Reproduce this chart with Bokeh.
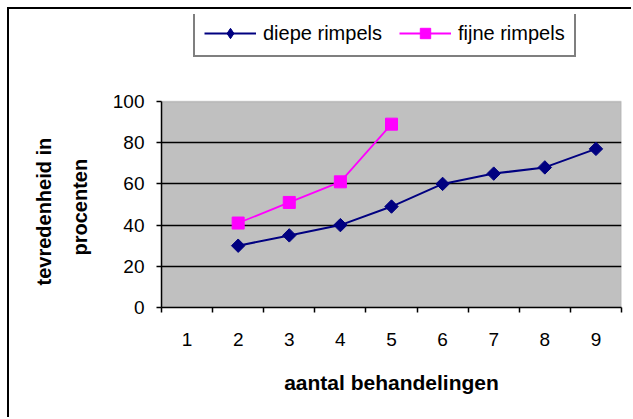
import math
from bokeh.plotting import figure
from bokeh.models import FixedTicker, Legend, LegendItem, Range1d, BoxAnnotation, Title
from bokeh.embed import file_html
from bokeh.resources import INLINE

categories = ["1", "2", "3", "4", "5", "6", "7", "8", "9"]
diepe_x = ["2", "3", "4", "5", "6", "7", "8", "9"]
diepe_values = [30, 35, 40, 49, 60, 65, 68, 77]
fijne_x = ["2", "3", "4", "5"]
fijne_values = [41, 51, 61, 89]
y_ticks = [0, 20, 40, 60, 80, 100]
series_names = ["diepe rimpels", "fijne rimpels"]
x_title = "aantal behandelingen"
y_title_lines = ["tevredenheid in", "procenten"]

pos = {c: i + 1 for i, c in enumerate(categories)}
FONT = "Liberation Sans"
NAVY = "#000080"
MAGENTA = "#FF00FF"

# layout (pixels): plot area is 206 px tall, legend sits 87 px above it
PLOT_PX = 206
LEGEND_ROOM_PX = 87
y_end = y_ticks[-1] + (y_ticks[-1] - y_ticks[0]) * LEGEND_ROOM_PX / PLOT_PX
x_lo, x_hi = 0.5, len(categories) + 0.5

p = figure(width=624, height=410, output_backend="svg", toolbar_location=None,
           x_range=Range1d(x_lo, x_hi),
           y_range=Range1d(y_ticks[0], y_end),
           min_border_left=152, min_border_right=12,
           min_border_top=5, min_border_bottom=112)
p.styles = {"border-left": "2px solid black", "border-top": "2px solid black",
            "margin-left": "7px", "margin-top": "7px"}

p.background_fill_color = "white"
p.border_fill_color = "white"
p.outline_line_color = None

plot_area = BoxAnnotation(bottom=y_ticks[0], top=y_ticks[-1], left=x_lo, right=x_hi,
                          fill_color="#C0C0C0", fill_alpha=1,
                          line_color="#808080", line_width=1.5, level="image")
p.add_layout(plot_area)

p.xgrid.visible = False
p.ygrid.ticker = FixedTicker(ticks=y_ticks[1:-1])
p.ygrid.grid_line_color = "black"
p.ygrid.grid_line_width = 1.5

# y axis
p.yaxis.ticker = FixedTicker(ticks=y_ticks, minor_ticks=[])
p.yaxis.bounds = (y_ticks[0], y_ticks[-1])
p.yaxis.axis_line_color = "black"
p.yaxis.axis_line_width = 1.5
p.yaxis.major_tick_line_color = "black"
p.yaxis.major_tick_line_width = 1.5
p.yaxis.major_tick_out = 5
p.yaxis.major_tick_in = 0
p.yaxis.minor_tick_line_color = None
p.yaxis.major_label_text_font = FONT
p.yaxis.major_label_text_font_size = "19px"
p.yaxis.major_label_text_color = "black"
p.yaxis.major_label_standoff = 12

# y title, two lines centred on the 0-100 plot area (offsets from plot bottom, px)
for text, off, stand in [(y_title_lines[1], 52, 37.5), (y_title_lines[0], 22, -14)]:
    p.add_layout(Title(text=text, align="left", offset=off, standoff=stand,
                       text_font=FONT, text_font_size="20px", text_font_style="bold",
                       text_color="black"), "left")

# x axis (labels centred in categories, ticks between them)
xt = [pos[c] for c in categories]
p.xaxis.ticker = FixedTicker(ticks=xt, minor_ticks=[v - 0.5 for v in xt] + [xt[-1] + 0.5])
p.xaxis.major_label_overrides = {pos[c]: c for c in categories}
p.xaxis.axis_line_color = "black"
p.xaxis.axis_line_width = 1.5
p.xaxis.major_tick_out = 0
p.xaxis.major_tick_in = 0
p.xaxis.minor_tick_out = 5
p.xaxis.minor_tick_in = 0
p.xaxis.minor_tick_line_color = "black"
p.xaxis.minor_tick_line_width = 1.5
p.xaxis.major_label_text_font = FONT
p.xaxis.major_label_text_font_size = "19px"
p.xaxis.major_label_text_color = "black"
p.xaxis.major_label_standoff = 20
p.xaxis.axis_label = x_title
p.xaxis.axis_label_text_font = FONT
p.xaxis.axis_label_text_font_size = "21px"
p.xaxis.axis_label_text_font_style = "bold"
p.xaxis.axis_label_text_color = "black"
p.xaxis.axis_label_standoff = 22

dx = [pos[c] for c in diepe_x]
fx = [pos[c] for c in fijne_x]
l1 = p.line(dx, diepe_values, line_color=NAVY, line_width=2)
s1 = p.scatter(dx, diepe_values, marker="square", angle=math.pi / 4, size=9.5,
               fill_color=NAVY, line_color=NAVY)
l2 = p.line(fx, fijne_values, line_color=MAGENTA, line_width=1.8)
s2 = p.scatter(fx, fijne_values, marker="square", size=12,
               fill_color=MAGENTA, line_color=MAGENTA)
# legend key for the diamonds (legend glyphs ignore marker rotation); size 0 in the plot
s1_key = p.scatter(dx, diepe_values, marker="diamond", size=0,
                   fill_color=NAVY, line_color=NAVY)

legend = Legend(items=[LegendItem(label=series_names[0], renderers=[l1, s1_key]),
                       LegendItem(label=series_names[1], renderers=[l2, s2])],
                location=(32, 250), orientation="horizontal")
legend.label_text_font = FONT
legend.label_text_font_size = "20px"
legend.label_text_color = "black"
legend.glyph_width = 52
legend.glyph_height = 26
legend.label_standoff = 7
legend.spacing = 17
legend.padding = 9
legend.margin = 0
legend.border_line_color = "black"
legend.border_line_width = 2
legend.background_fill_color = "white"
legend.background_fill_alpha = 1
p.add_layout(legend, "center")

open("out.html", "w").write(file_html(p, INLINE))
